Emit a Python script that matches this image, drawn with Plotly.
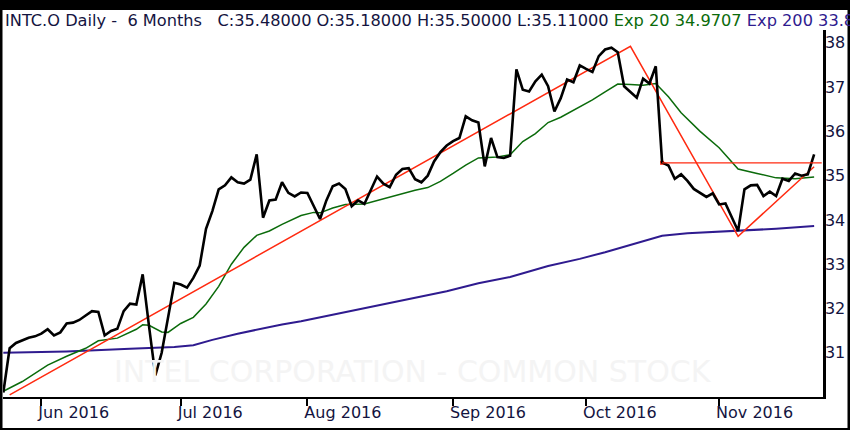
import pandas as pd
import plotly.graph_objects as go

# trading days shown (6 months of daily bars)
holidays = ["2016-05-30", "2016-07-04", "2016-09-05"]
dates = [d.strftime("%Y-%m-%d") for d in pd.bdate_range("2016-05-23", "2016-11-22")
         if d.strftime("%Y-%m-%d") not in holidays]

close = [
    30.10, 31.10, 31.22, 31.28, 31.34, 31.37, 31.43, 31.53, 31.39, 31.46,
    31.66, 31.68, 31.74, 31.84, 31.94, 31.92, 31.39, 31.49, 31.54, 31.94,
    32.11, 32.09, 32.77, 31.60, 30.49, 31.00, 31.77, 32.58, 32.54, 32.47,
    32.69, 32.97, 33.80, 34.20, 34.69, 34.78, 34.96, 34.85, 34.82, 34.91,
    35.48, 34.05, 34.44, 34.46, 34.85, 34.61, 34.53, 34.62, 34.61, 34.31,
    34.02, 34.44, 34.76, 34.82, 34.70, 34.31, 34.44, 34.36, 34.68, 34.98,
    34.82, 34.74, 35.02, 35.15, 35.17, 34.92, 34.85, 35.00, 35.32, 35.53,
    35.68, 35.78, 35.85, 36.34, 36.25, 36.20, 35.21, 35.85, 35.42, 35.40,
    35.45, 37.40, 36.94, 36.90, 37.13, 37.28, 37.02, 36.45, 36.75, 37.17,
    37.11, 37.49, 37.41, 37.34, 37.70, 37.85, 37.89, 37.79, 37.02, 36.89,
    36.76, 37.19, 37.08, 37.47, 35.30, 35.23, 34.93, 35.03, 34.88, 34.70,
    34.60, 34.52, 34.60, 34.35, 34.37, 34.05, 33.75, 34.69, 34.78, 34.79,
    34.54, 34.64, 34.54, 34.93, 34.88, 35.05, 35.00, 35.03, 35.48,
]

# exponential averages at selected bars
ema20_days = [0, 3, 7, 10, 13, 15, 18, 21, 22, 23, 25, 26, 28, 30, 32, 34, 36, 38,
              40, 42, 44, 47, 49, 50, 52, 54, 57, 60, 62, 65, 67, 69, 71, 73, 75,
              78, 80, 82, 84, 86, 88, 91, 93, 95, 97, 99, 101, 103, 105, 107, 110,
              113, 116, 119, 122, 125, 128]
ema20_vals = [30.13, 30.35, 30.72, 30.92, 31.10, 31.27, 31.33, 31.53, 31.63, 31.62,
              31.47, 31.46, 31.66, 31.80, 32.10, 32.50, 33.00, 33.38, 33.65, 33.75,
              33.90, 34.10, 34.17, 34.16, 34.27, 34.35, 34.36, 34.48, 34.55, 34.67,
              34.73, 34.87, 35.05, 35.24, 35.40, 35.42, 35.47, 35.77, 35.95, 36.20,
              36.32, 36.55, 36.71, 36.89, 37.07, 37.06, 37.04, 37.08, 36.78, 36.42,
              36.00, 35.63, 35.15, 35.05, 34.95, 34.93, 34.97]

ema200_days = [0, 10, 20, 27, 30, 33, 37, 40, 44, 47, 55, 65, 70, 75, 80, 86, 91,
               95, 99, 104, 108, 116, 122, 128]
ema200_vals = [31.00, 31.03, 31.09, 31.13, 31.17, 31.29, 31.43, 31.52, 31.64, 31.71,
               31.95, 32.24, 32.39, 32.57, 32.71, 32.96, 33.12, 33.27, 33.44, 33.64,
               33.70, 33.75, 33.80, 33.86]

# hand-drawn trend lines
trend_days = [1, 99, 116, 128]
trend_vals = [30.05, 37.92, 33.63, 35.20]
level_start = 104
level_val = 35.29

month_ticks = ["2016-06-01", "2016-07-01", "2016-08-01", "2016-09-01", "2016-10-03", "2016-11-01"]
month_labels = ["Jun 2016", "Jul 2016", "Aug 2016", "Sep 2016", "Oct 2016", "Nov 2016"]
y_ticks = [31, 32, 33, 34, 35, 36, 37, 38]

W, H = 850, 430
L, R, T, B = 3, 27, 30, 33
PW, PH = W - L - R, H - T - B


def px_x(px):
    return (px - L) / PW


def px_y(py):
    return (H - B - py) / PH


TXT = "#14143f"
GREEN = "#0b6b0b"
PURPLE = "#2f1b8f"
RED = "#ff2a10"
FONT = "DejaVu Sans"

fig = go.Figure()
fig.add_trace(go.Scatter(x=[dates[i] for i in ema200_days], y=ema200_vals, mode="lines",
                         line=dict(color=PURPLE, width=2)))
fig.add_trace(go.Scatter(x=[dates[i] for i in ema20_days], y=ema20_vals, mode="lines",
                         line=dict(color=GREEN, width=1.5)))
fig.add_trace(go.Scatter(x=[dates[i] for i in trend_days], y=trend_vals, mode="lines",
                         line=dict(color=RED, width=1.5)))
# resistance level running out to the price axis
fig.add_shape(type="line", xref="x", yref="y", x0=level_start, x1=len(dates) + 0.2,
              y0=level_val, y1=level_val, line=dict(color=RED, width=1.2))
fig.add_trace(go.Scatter(x=[dates[level_start]], y=[level_val], mode="markers",
                         marker=dict(color=RED, size=4, symbol="square")))
fig.add_trace(go.Scatter(x=dates, y=close, mode="lines",
                         line=dict(color="black", width=2.6)))

header = (
    "INTC.O Daily -\u00a0\u00a06 Months\u00a0\u00a0\u00a0C:35.48000 O:35.18000 "
    "H:35.50000 L:35.11000 "
    f"<span style='color:{GREEN}'>Exp 20 34.9707</span> "
    f"<span style='color:{PURPLE}'>Exp 200 33.86</span>"
)
fig.add_annotation(text=header, xref="paper", yref="paper", x=px_x(3), y=px_y(20),
                   xanchor="left", yanchor="middle", showarrow=False,
                   font=dict(family=FONT, size=16.2, color=TXT))
fig.add_annotation(text="INTEL CORPORATION - COMMON STOCK", xref="paper", yref="paper",
                   x=px_x(413), y=px_y(371), xanchor="center", yanchor="middle",
                   showarrow=False, font=dict(family=FONT, size=30, color="#f4f4f4"))

# black picture frame
frame = [(0, 0, W, 10), (0, 0, 2.5, H), (847.5, 0, W, H), (0, 428, W, H)]
for x0, y0, x1, y1 in frame:
    fig.add_shape(type="rect", xref="paper", yref="paper",
                  x0=px_x(x0), x1=px_x(x1), y0=px_y(y1), y1=px_y(y0),
                  fillcolor="black", line=dict(width=0), layer="above")

fig.update_layout(
    width=W, height=H,
    margin=dict(l=L, r=R, t=T, b=B),
    paper_bgcolor="white", plot_bgcolor="white",
    showlegend=False,
    xaxis=dict(
        type="category", categoryorder="array", categoryarray=dates,
        range=[-0.05, len(dates) + 0.4],
        tickvals=month_ticks, ticktext=month_labels,
        ticks="outside", ticklen=7, tickwidth=2, tickcolor="black",
        ticklabelposition="outside right", ticklabelshift=-5,
        showline=True, linecolor="black", linewidth=2,
        showgrid=False, zeroline=False,
        tickfont=dict(family=FONT, size=16, color=TXT),
    ),
    yaxis=dict(
        side="right", range=[30, 38.29], tickvals=y_ticks,
        ticks="", showline=True, linecolor="black", linewidth=2.5,
        ticklabelstandoff=-4,
        showgrid=False, zeroline=False,
        tickfont=dict(family=FONT, size=16, color=TXT),
    ),
)

# the page's default body margin would push the figure off the 850x430 window
fig.write_html("out.html", config={"displayModeBar": False},
               post_script="document.body.style.margin='0';")
